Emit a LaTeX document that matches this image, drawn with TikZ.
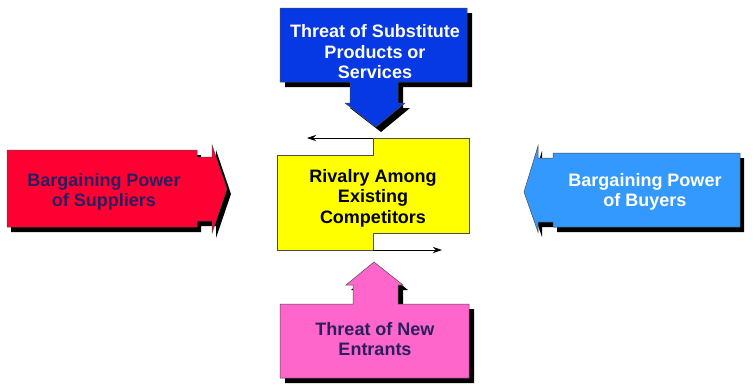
\documentclass[tikz,border=0pt]{standalone}
\usepackage{fontspec}
\setmainfont{Liberation Sans}
\usetikzlibrary{arrows.meta}
\definecolor{topblue}{HTML}{0638E4}
\definecolor{buyblue}{HTML}{3399FF}
\definecolor{supred}{HTML}{FF0033}
\definecolor{entpink}{HTML}{FF66CC}
\definecolor{rivyellow}{HTML}{FFFF00}
\definecolor{navytext}{HTML}{2A1E5E}
\begin{document}
\begin{tikzpicture}[x=1pt,y=-1pt,
  shade/.style={fill=black},
  body/.style={draw=black!70,line width=0.5pt},
  lbl/.style={font=\bfseries\fontsize{18}{20.5}\selectfont,align=center,inner sep=0pt},
  flow/.style={-{Stealth[length=9pt,width=6pt]},line width=0.7pt,black}]
\useasboundingbox[fill=white] (0,0) rectangle (755,386);

% Top: Threat of Substitute
\fill[shade,shift={(5pt,-5pt)}] (280,8) -- (467,8) -- (467,82) -- (398,82) -- (398,103) -- (405,103) -- (376,127) -- (345,103) -- (350,103) -- (350,82) -- (280,82) -- cycle;
\path[body,fill=topblue] (280,8) -- (467,8) -- (467,82) -- (398,82) -- (398,103) -- (405,103) -- (376,127) -- (345,103) -- (350,103) -- (350,82) -- (280,82) -- cycle;
\node[lbl,text=white] (subst) at (375,52) {Threat of Substitute\\Products or\\Services};

% Bottom: New Entrants
\fill[shade,shift={(5pt,-5pt)}] (280,304) -- (353,304) -- (353,285) -- (346,285) -- (374,262) -- (403,285) -- (398,285) -- (398,304) -- (469,304) -- (469,378) -- (280,378) -- cycle;
\path[body,fill=entpink] (280,304) -- (353,304) -- (353,285) -- (346,285) -- (374,262) -- (403,285) -- (398,285) -- (398,304) -- (469,304) -- (469,378) -- (280,378) -- cycle;
\node[lbl,text=navytext] (entr) at (375,339) {Threat of New\\Entrants};

% Left: Suppliers
\fill[shade,shift={(4pt,-5pt)}] (7,150) -- (197,150) -- (197,157) -- (212,157) -- (212,145) -- (227,189) -- (212,233) -- (212,221) -- (197,221) -- (197,227) -- (7,227) -- cycle;
\path[body,fill=supred] (7,150) -- (197,150) -- (197,157) -- (212,157) -- (212,145) -- (227,189) -- (212,233) -- (212,221) -- (197,221) -- (197,227) -- (7,227) -- cycle;
\node[lbl,text=navytext] (supp) at (104,192) {Bargaining Power\\of Suppliers};

% Right: Buyers
\fill[shade,shift={(4pt,-5pt)}] (740,153) -- (553,153) -- (553,158) -- (538,158) -- (538,146) -- (524,192) -- (538,232) -- (538,222) -- (553,222) -- (553,227) -- (740,227) -- cycle;
\path[body,fill=buyblue] (740,153) -- (553,153) -- (553,158) -- (538,158) -- (538,146) -- (524,192) -- (538,232) -- (538,222) -- (553,222) -- (553,227) -- (740,227) -- cycle;
\node[lbl,text=white] (buy) at (645,192) {Bargaining Power\\of Buyers};

% Centre: Rivalry
\path[body,fill=rivyellow] (277,155) -- (373,155) -- (373,138) -- (469,138) -- (469,233) -- (373,233) -- (373,250) -- (277,250) -- cycle;
\node[lbl,text=black] (riv) at (373,198) {Rivalry Among\\Existing\\Competitors};
\coordinate (rtop) at (373,138);
\coordinate (rtopend) at (307,138);
\coordinate (rbot) at (373,250);
\coordinate (rbotend) at (442,250);
\draw[flow] (rtop) -- (rtopend);
\draw[flow] (rbot) -- (rbotend);
\end{tikzpicture}
\end{document}
